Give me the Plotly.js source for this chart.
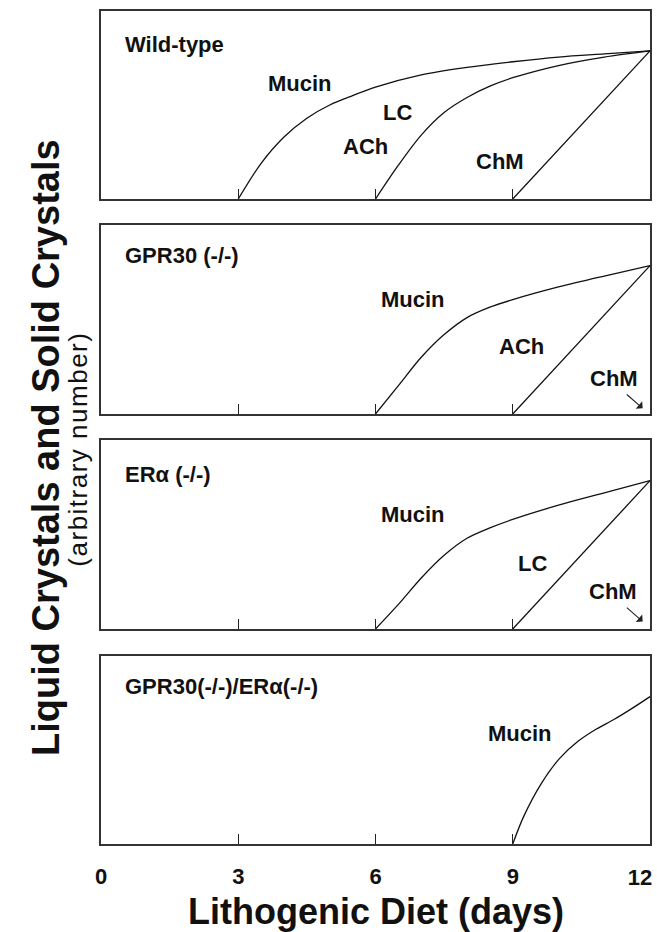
<!DOCTYPE html>
<html>
<head>
<meta charset="utf-8">
<script src="https://cdn.plot.ly/plotly-3.0.1.min.js"></script>
<style>html,body{margin:0;padding:0;background:#fff;}#chart{width:657px;height:932px;}</style>
</head>
<body>
<div id="chart"></div>
<script>
// ---- data (days on lithogenic diet vs arbitrary amount) ----
const panelNames = ["Wild-type", "GPR30 (-/-)", "ERα (-/-)", "GPR30(-/-)/ERα(-/-)"];
const tickDays = [0, 3, 6, 9, 12];
const tickLabels = ["0", "3", "6", "9", "12"];

// Wild-type
const wtMucinX = [3, 3.5, 4.0, 4.5, 5.0, 5.5, 6, 7, 8, 9, 10, 11, 12];
const wtMucinY = [0, 0.19, 0.33, 0.43, 0.5, 0.55, 0.595, 0.66, 0.70, 0.73, 0.755, 0.772, 0.788];
const wtLcX = [6, 6.5, 7, 7.5, 8, 8.5, 9, 10, 11, 12];
const wtLcY = [0, 0.18, 0.34, 0.46, 0.54, 0.60, 0.645, 0.71, 0.755, 0.788];
const wtChmX = [9, 12];
const wtChmY = [0, 0.788];

// GPR30 (-/-)
const gMucinX = [6, 6.5, 7, 7.5, 8, 8.5, 9, 10, 11, 12];
const gMucinY = [0, 0.15, 0.30, 0.42, 0.51, 0.565, 0.605, 0.672, 0.73, 0.785];
const gAchX = [9, 12];
const gAchY = [0, 0.785];

// ERα (-/-)
const eMucinX = [6, 6.5, 7, 7.5, 8, 8.5, 9, 10, 11, 12];
const eMucinY = [0, 0.13, 0.27, 0.39, 0.48, 0.535, 0.58, 0.655, 0.72, 0.785];
const eLcX = [9, 12];
const eLcY = [0, 0.785];

// GPR30(-/-)/ERα(-/-)
const dMucinX = [9, 9.24, 9.63, 10.03, 10.42, 10.82, 11.21, 11.6, 12];
const dMucinY = [0, 0.147, 0.324, 0.457, 0.545, 0.61, 0.662, 0.72, 0.784];

// ---- traces ----
const lineStyle = {color: "#111", width: 1.3, shape: "spline", smoothing: 0.9};
function tr(x, y, n) {
  return {x: x, y: y, type: "scatter", mode: "lines", line: lineStyle,
          xaxis: n === 1 ? "x" : "x" + n, yaxis: n === 1 ? "y" : "y" + n,
          hoverinfo: "skip", showlegend: false};
}
const data = [
  tr(wtMucinX, wtMucinY, 1), tr(wtLcX, wtLcY, 1), tr(wtChmX, wtChmY, 1),
  tr(gMucinX, gMucinY, 2), tr(gAchX, gAchY, 2),
  tr(eMucinX, eMucinY, 3), tr(eLcX, eLcY, 3),
  tr(dMucinX, dMucinY, 4),
  // carrier for the overlay axis that holds the last day label
  {x: dMucinX, y: dMucinY, type: "scatter", mode: "lines", xaxis: "x5", yaxis: "y4",
   line: {color: "rgba(0,0,0,0)", width: 0}, hoverinfo: "skip", showlegend: false}
];

// ---- layout ----
const FONT = "Liberation Sans, Arial, Helvetica, sans-serif";
const TICKFONT = {family: FONT, size: 22, color: "#111", weight: "bold"};
const domains = [[0.7743, 1.0], [0.5162, 0.7431], [0.2581, 0.4850], [0, 0.2257]];
const layout = {
  width: 657, height: 932,
  margin: {l: 101, r: 7, t: 11, b: 88},
  paper_bgcolor: "#fff", plot_bgcolor: "#fff",
  font: {family: FONT, color: "#111"},
  showlegend: false,
  annotations: [],
  shapes: []
};
for (let i = 1; i <= 4; i++) {
  const xk = i === 1 ? "xaxis" : "xaxis" + i;
  const yk = i === 1 ? "yaxis" : "yaxis" + i;
  layout[xk] = {
    range: [0, 12], domain: [0, 1], anchor: i === 1 ? "y" : "y" + i,
    tickmode: "array", tickvals: tickDays,
    ticktext: tickLabels.map(function (t, k) { return k === tickLabels.length - 1 ? "" : t; }),
    showticklabels: i === 4, ticks: "inside", ticklen: 10, tickwidth: 1.3, tickcolor: "#222",
    ticklabelstandoff: 12,
    tickfont: TICKFONT,
    showline: true, mirror: true, linecolor: "#333", linewidth: 1.6,
    showgrid: false, zeroline: false, fixedrange: true
  };
  layout[yk] = {
    range: [0, 1], domain: domains[i - 1], anchor: i === 1 ? "x" : "x" + i,
    showticklabels: false, ticks: "", showline: true, mirror: true,
    linecolor: "#333", linewidth: 1.6, showgrid: false, zeroline: false, fixedrange: true
  };
}
// the last day label sits a little inside the right edge, as in the figure
layout.xaxis5 = {
  overlaying: "x4", anchor: "y4", side: "bottom", range: [0, 12],
  tickmode: "array", tickvals: [tickDays[tickDays.length - 1]],
  ticktext: [tickLabels[tickLabels.length - 1]],
  ticks: "", ticklabelstandoff: 18, ticklabelshift: -10, ticklabeloverflow: "allow",
  tickfont: TICKFONT, showline: false, showgrid: false, zeroline: false, fixedrange: true
};

function lab(text, x, y, n, opts) {
  return Object.assign({
    text: text, x: x, y: y, xref: n === 1 ? "x" : "x" + n, yref: n === 1 ? "y" : "y" + n,
    showarrow: false, xanchor: "center", yanchor: "middle",
    font: {family: FONT, size: 22, color: "#111", weight: "bold"}
  }, opts || {});
}
const L = {xanchor: "left"};
layout.annotations.push(
  lab(panelNames[0], 0.47, 0.824, 1, L),
  lab("Mucin", 4.34, 0.612, 1), lab("LC", 6.47, 0.462, 1),
  lab("ACh", 5.79, 0.277, 1), lab("ChM", 8.72, 0.198, 1),

  lab(panelNames[1], 0.47, 0.84, 2, L),
  lab("Mucin", 6.81, 0.604, 2), lab("ACh", 9.2, 0.357, 2), lab("ChM", 11.22, 0.19, 2),

  lab(panelNames[2], 0.47, 0.82, 3, L),
  lab("Mucin", 6.81, 0.608, 3), lab("LC", 9.43, 0.347, 3), lab("ChM", 11.2, 0.2, 3),

  lab(panelNames[3], 0.47, 0.837, 4, L),
  lab("Mucin", 9.16, 0.589, 4)
);
// small arrows under ChM
[[2, 0.03, 0.11], [3, 0.04, 0.12]].forEach(function (a) {
  const n = a[0];
  layout.annotations.push({
    x: 11.84, y: a[1], ax: 11.46, ay: a[2], text: "",
    xref: "x" + n, yref: "y" + n, axref: "x" + n, ayref: "y" + n,
    showarrow: true, arrowhead: 1, arrowsize: 1.5, arrowwidth: 1.1, arrowcolor: "#222"
  });
});
// axis titles
layout.annotations.push({
  text: "Lithogenic Diet (days)", xref: "paper", yref: "paper", x: 0.5, y: -0.0805,
  xanchor: "center", yanchor: "middle", showarrow: false,
  font: {family: FONT, size: 36, color: "#111", weight: "bold"}
});
layout.annotations.push({
  text: "Liquid Crystals and Solid Crystals", xref: "paper", yref: "paper",
  x: -0.1002, y: 0.4766, xanchor: "center", yanchor: "middle", textangle: -90, showarrow: false,
  font: {family: FONT, size: 38, color: "#111", weight: "bold"}
});
layout.annotations.push({
  text: '<span style="letter-spacing:1.5px">(arbitrary number)</span>', xref: "paper", yref: "paper",
  x: -0.041, y: 0.474, xanchor: "center", yanchor: "middle", textangle: -90, showarrow: false,
  font: {family: FONT, size: 26, color: "#111"}
});

Plotly.newPlot("chart", data, layout, {displayModeBar: false, staticPlot: true});
</script>
</body>
</html>
